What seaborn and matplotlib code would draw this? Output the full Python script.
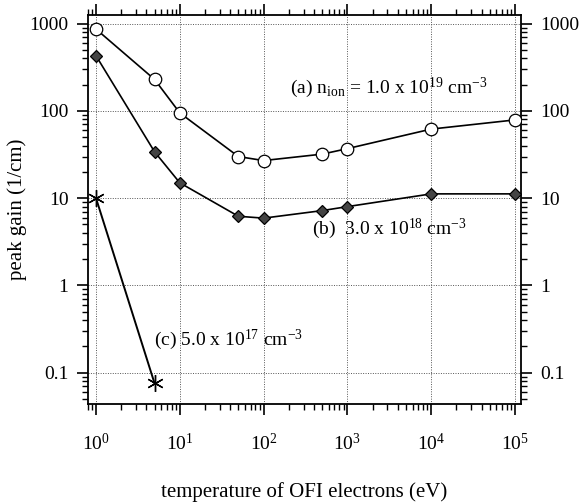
import matplotlib
matplotlib.use("Agg")
import matplotlib.pyplot as plt
import matplotlib.ticker as mticker
import seaborn as sns
import pandas as pd
import numpy as np

# Data
temp_a = [1, 5, 10, 50, 100, 500, 1000, 10000, 100000]
gain_a = [870, 230, 95, 30, 27, 32, 37, 62, 79]
temp_b = [1, 5, 10, 50, 100, 500, 1000, 10000, 100000]
gain_b = [430, 34, 15, 6.2, 5.9, 7.2, 8.0, 11.2, 11.2]
temp_c = [1, 5]
gain_c = [10, 0.075]

sns.set_theme(style="ticks")
plt.rcParams['font.family'] = ['Liberation Serif', 'DejaVu Serif']
plt.rcParams['mathtext.fontset'] = 'custom'
plt.rcParams['mathtext.rm'] = 'Liberation Serif'
plt.rcParams['mathtext.it'] = 'Liberation Serif:italic'
plt.rcParams['text.color'] = 'black'
plt.rcParams['axes.labelcolor'] = 'black'

fig = plt.figure(figsize=(5.82, 5.03), dpi=100)
ax = fig.add_axes([0.151, 0.197, 0.744, 0.773])

df_a = pd.DataFrame({"x": temp_a, "y": gain_a})
df_b = pd.DataFrame({"x": temp_b, "y": gain_b})
df_c = pd.DataFrame({"x": temp_c, "y": gain_c})

sns.lineplot(data=df_a, x="x", y="y", ax=ax, color="black", lw=1.2,
             marker="o", markersize=9, markerfacecolor="white",
             markeredgecolor="black", markeredgewidth=0.9, zorder=3)
sns.lineplot(data=df_b, x="x", y="y", ax=ax, color="black", lw=1.2,
             marker="D", markersize=6.5, markerfacecolor="#444444",
             markeredgecolor="black", markeredgewidth=0.9, zorder=3)
sns.lineplot(data=df_c, x="x", y="y", ax=ax, color="black", lw=1.4,
             marker=(6, 2, 0), markersize=12, markeredgecolor="black",
             markeredgewidth=1.0, zorder=3)

ax.set_xscale("log")
ax.set_yscale("log")
ax.set_xlim(0.80, 10**5.07)
ax.set_ylim(10**-1.36, 10**3.10)

ax.set_xticks([1, 10, 100, 1000, 10000, 100000])
ax.xaxis.set_major_formatter(mticker.FuncFormatter(
    lambda v, p: r"$\mathregular{10^{%d}}$" % int(round(np.log10(v)))))
ax.set_yticks([0.1, 1, 10, 100, 1000])
ax.set_yticklabels(["0.1", "1", "10", "100", "1000"])
ax.xaxis.set_minor_locator(mticker.LogLocator(base=10, subs=np.arange(2, 10), numticks=20))
ax.yaxis.set_minor_locator(mticker.LogLocator(base=10, subs=np.arange(2, 10), numticks=20))
ax.xaxis.set_minor_formatter(mticker.NullFormatter())
ax.yaxis.set_minor_formatter(mticker.NullFormatter())

ax.tick_params(which="both", direction="out", top=True, right=True,
               labelright=True, labeltop=False, colors="black")
ax.tick_params(which="major", length=8, width=1.2, labelsize=14, pad=6)
ax.tick_params(which="minor", length=4, width=1.0)
ax.tick_params(axis="x", which="major", pad=13)

for s in ax.spines.values():
    s.set_linewidth(1.3)
    s.set_color("black")

ax.grid(True, which="major", linestyle=(0, (1, 1.5)), color="#555555", lw=0.7)

ax.set_xlabel("temperature of OFI electrons (eV)", fontsize=15, labelpad=20)
ax.set_ylabel("peak gain (1/cm)", fontsize=15)
ax.yaxis.set_label_coords(-0.141, 0.5)

ax.text(205, 186, r"(a) n$\mathregular{_{ion}}$ = 1.0 x 10$\mathregular{^{19}}$ cm$\mathregular{^{-3}}$",
        fontsize=14, ha="left", va="center")
ax.text(380, 4.4, r"(b)  3.0 x 10$\mathregular{^{18}}$ cm$\mathregular{^{-3}}$",
        fontsize=14, ha="left", va="center")
ax.text(4.9, 0.24, r"(c) 5.0 x 10$\mathregular{^{17}}$ cm$\mathregular{^{-3}}$",
        fontsize=14, ha="left", va="center")

fig.savefig("out.png", dpi=100, facecolor="white")
